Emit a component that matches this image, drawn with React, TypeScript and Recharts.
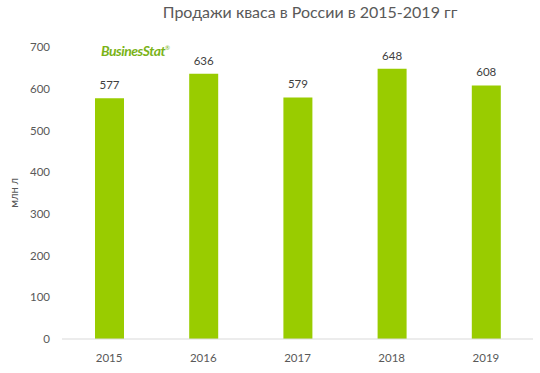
import { BarChart, Bar, XAxis, YAxis, LabelList } from "recharts";

const years = ["2015", "2016", "2017", "2018", "2019"];
const sales = [577, 636, 579, 648, 608];
const yTicks = [0, 100, 200, 300, 400, 500, 600, 700];

const data = years.map((year, i) => ({ year, sales: sales[i] }));

const FONT = "Lato, 'Open Sans', sans-serif";

export default function App() {
  return (
    <div style={{ position: "absolute", left: 0, top: 0, width: 540, height: 373, background: "#fff", fontFamily: FONT }}>
      <div
        style={{
          position: "absolute",
          left: 100,
          width: 420,
          top: 2,
          textAlign: "center",
          fontSize: 16,
          color: "#595959",
        }}
      >
        Продажи кваса в России в 2015-2019 гг
      </div>
      <div
        style={{
          position: "absolute",
          left: 101,
          top: 42,
          fontSize: 14,
          fontWeight: 700,
          fontStyle: "italic",
          color: "#7ab317",
          letterSpacing: -0.5,
        }}
      >
        BusinesStat<sup style={{ fontSize: 6, fontWeight: 400 }}>®</sup>
      </div>
      <BarChart
        width={540}
        height={373}
        data={data}
        margin={{ top: 47, right: 7, bottom: 0, left: 0 }}
        style={{ position: "absolute", left: 0, top: 0 }}
      >
        <XAxis
          dataKey="year"
          height={34}
          axisLine={{ stroke: "#d9d9d9" }}
          tickLine={false}
          tick={{ fontSize: 11.5, fill: "#595959", fontFamily: FONT }}
          tickMargin={9}
        />
        <YAxis
          domain={[0, 700]}
          ticks={yTicks}
          width={62}
          axisLine={false}
          tickLine={false}
          tick={{ fontSize: 11.5, fill: "#595959", fontFamily: FONT }}
          tickMargin={6}
          label={{
            value: "млн л",
            angle: -90,
            position: "insideLeft",
            offset: 14,
            style: { fontSize: 11, fill: "#595959", fontFamily: FONT, textAnchor: "middle" },
          }}
        />
        <Bar dataKey="sales" fill="#99cc00" barSize={29} isAnimationActive={false}>
          <LabelList dataKey="sales" position="top" offset={9} style={{ fontSize: 11.5, fill: "#404040", fontFamily: FONT }} />
        </Bar>
      </BarChart>
    </div>
  );
}
